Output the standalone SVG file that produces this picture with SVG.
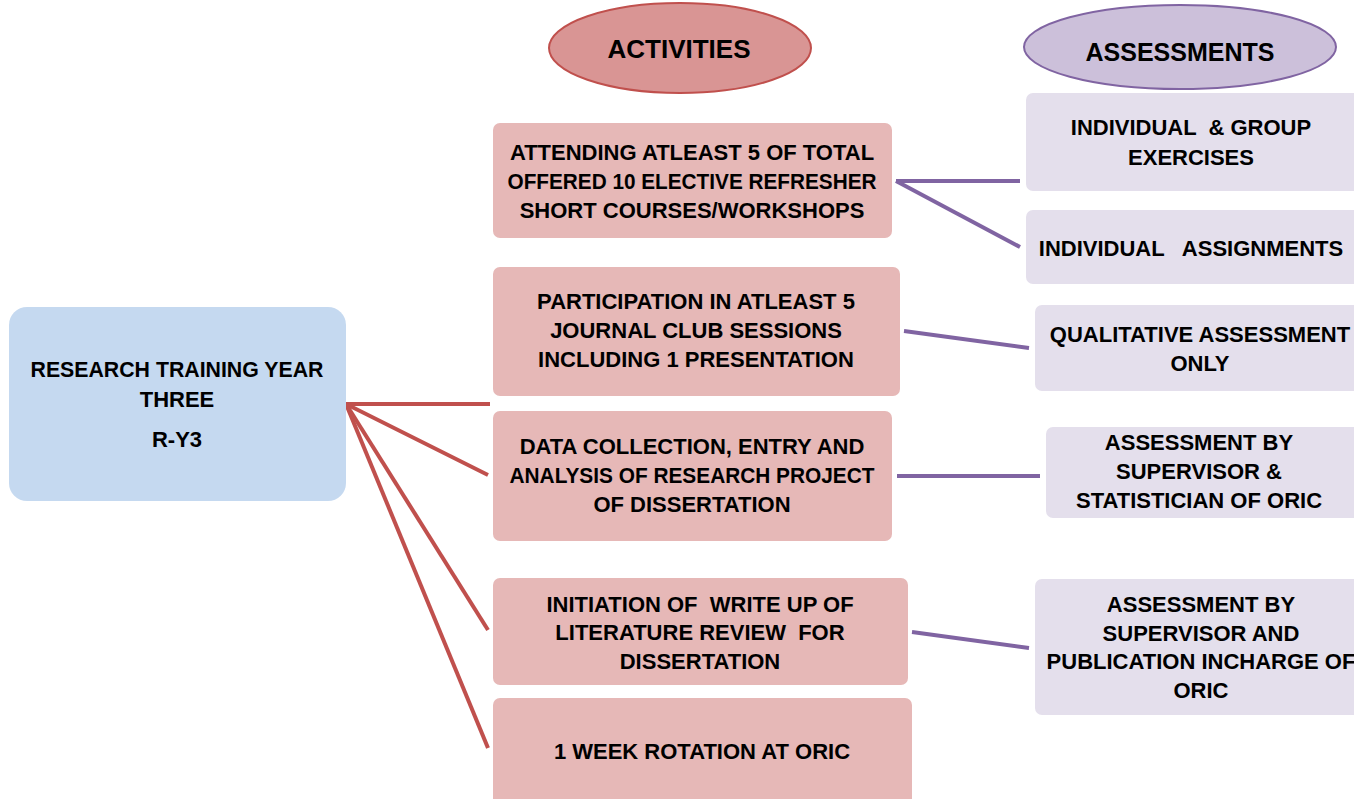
<svg xmlns="http://www.w3.org/2000/svg" width="1354" height="799" viewBox="0 0 1354 799">
<style>
text{font-family:"Liberation Sans",Arial,sans-serif;font-weight:bold;font-size:22px;fill:#000;text-anchor:middle;white-space:pre}
.hd{font-size:26px}
.act{fill:#e6b8b7}
.asm{fill:#e4dfec}
.red{stroke:#c0504d;stroke-width:4;fill:none}
.pur{stroke:#8064a2;stroke-width:4;fill:none}
</style>
<rect width="1354" height="799" fill="#fff"/>
<g id="connectors">
<line class="red" x1="346" y1="404" x2="490" y2="404"/>
<line class="red" x1="346" y1="404" x2="488" y2="475"/>
<line class="red" x1="346" y1="404" x2="488" y2="630"/>
<line class="red" x1="346" y1="404" x2="488" y2="748"/>
<line class="pur" x1="896" y1="181" x2="1020" y2="181"/>
<line class="pur" x1="896" y1="181" x2="1020" y2="247"/>
<line class="pur" x1="904" y1="331" x2="1029" y2="348"/>
<line class="pur" x1="897" y1="476" x2="1040" y2="476"/>
<line class="pur" x1="912" y1="632" x2="1029" y2="648"/>
</g>
<g id="hdr-activities">
<ellipse cx="680" cy="48" rx="131" ry="45" fill="#d99594" stroke="#c0504d" stroke-width="2"/>
<text class="hd" x="679" y="58">ACTIVITIES</text>
</g>
<g id="hdr-assessments">
<ellipse cx="1180" cy="47" rx="156" ry="42" fill="#ccc0da" stroke="#8064a2" stroke-width="2"/>
<text class="hd" x="1180" y="61" textLength="189" lengthAdjust="spacingAndGlyphs">ASSESSMENTS</text>
</g>
<g id="root">
<rect x="9" y="307" width="337" height="194" rx="18" fill="#c5d9f0"/>
<text x="177" y="377" textLength="293" lengthAdjust="spacingAndGlyphs">RESEARCH TRAINING YEAR</text>
<text x="177" y="407">THREE</text>
<text x="177" y="447">R-Y3</text>
</g>
<g id="act1">
<rect class="act" x="493" y="123" width="399" height="115" rx="7"/>
<text x="692" y="160">ATTENDING ATLEAST 5 OF TOTAL</text>
<text x="692" y="189" textLength="369" lengthAdjust="spacingAndGlyphs">OFFERED 10 ELECTIVE REFRESHER</text>
<text x="692" y="218">SHORT COURSES/WORKSHOPS</text>
</g>
<g id="act2">
<rect class="act" x="493" y="267" width="407" height="129" rx="7"/>
<text x="696" y="309">PARTICIPATION IN ATLEAST 5</text>
<text x="696" y="338">JOURNAL CLUB SESSIONS</text>
<text x="696" y="367">INCLUDING 1 PRESENTATION</text>
</g>
<g id="act3">
<rect class="act" x="493" y="411" width="399" height="130" rx="7"/>
<text x="692" y="454">DATA COLLECTION, ENTRY AND</text>
<text x="692" y="483" textLength="365" lengthAdjust="spacingAndGlyphs">ANALYSIS OF RESEARCH PROJECT</text>
<text x="692" y="512">OF DISSERTATION</text>
</g>
<g id="act4">
<rect class="act" x="493" y="578" width="415" height="107" rx="7"/>
<text x="700" y="612" xml:space="preserve">INITIATION OF  WRITE UP OF</text>
<text x="700" y="640" xml:space="preserve">LITERATURE REVIEW  FOR</text>
<text x="700" y="669">DISSERTATION</text>
</g>
<g id="act5">
<rect class="act" x="493" y="698" width="419" height="120" rx="7"/>
<text x="702" y="759">1 WEEK ROTATION AT ORIC</text>
</g>
<g id="asm1">
<rect class="asm" x="1026" y="93" width="340" height="98" rx="7"/>
<text x="1191" y="135" xml:space="preserve">INDIVIDUAL  &amp; GROUP</text>
<text x="1191" y="165">EXERCISES</text>
</g>
<g id="asm2">
<rect class="asm" x="1026" y="210" width="340" height="74" rx="7"/>
<text x="1191" y="256" xml:space="preserve">INDIVIDUAL   ASSIGNMENTS</text>
</g>
<g id="asm3">
<rect class="asm" x="1035" y="305" width="330" height="86" rx="7"/>
<text x="1200" y="342">QUALITATIVE ASSESSMENT</text>
<text x="1200" y="371">ONLY</text>
</g>
<g id="asm4">
<rect class="asm" x="1046" y="427" width="320" height="91" rx="7"/>
<text x="1199" y="450">ASSESSMENT BY</text>
<text x="1199" y="479">SUPERVISOR &amp;</text>
<text x="1199" y="508">STATISTICIAN OF ORIC</text>
</g>
<g id="asm5">
<rect class="asm" x="1035" y="579" width="330" height="136" rx="7"/>
<text x="1201" y="612">ASSESSMENT BY</text>
<text x="1201" y="641">SUPERVISOR AND</text>
<text x="1201" y="669">PUBLICATION INCHARGE OF</text>
<text x="1201" y="698">ORIC</text>
</g>
</svg>
